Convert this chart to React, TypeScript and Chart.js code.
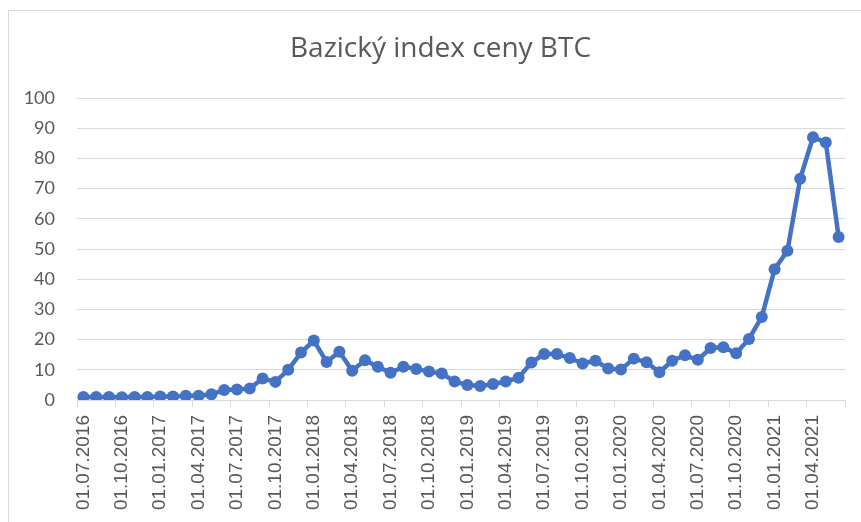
import React, { useEffect, useRef } from "react";
import { Chart, registerables } from "chart.js";

Chart.register(...registerables);

const TITLE = "Bazický index ceny BTC";

const categories = [
  "01.07.2016", "01.08.2016", "01.09.2016", "01.10.2016", "01.11.2016", "01.12.2016",
  "01.01.2017", "01.02.2017", "01.03.2017", "01.04.2017", "01.05.2017", "01.06.2017",
  "01.07.2017", "01.08.2017", "01.09.2017", "01.10.2017", "01.11.2017", "01.12.2017",
  "01.01.2018", "01.02.2018", "01.03.2018", "01.04.2018", "01.05.2018", "01.06.2018",
  "01.07.2018", "01.08.2018", "01.09.2018", "01.10.2018", "01.11.2018", "01.12.2018",
  "01.01.2019", "01.02.2019", "01.03.2019", "01.04.2019", "01.05.2019", "01.06.2019",
  "01.07.2019", "01.08.2019", "01.09.2019", "01.10.2019", "01.11.2019", "01.12.2019",
  "01.01.2020", "01.02.2020", "01.03.2020", "01.04.2020", "01.05.2020", "01.06.2020",
  "01.07.2020", "01.08.2020", "01.09.2020", "01.10.2020", "01.11.2020", "01.12.2020",
  "01.01.2021", "01.02.2021", "01.03.2021", "01.04.2021", "01.05.2021", "01.06.2021",
];

const indexValues = [
  1.0, 1.0, 1.0, 0.9, 1.0, 1.0, 1.2, 1.2, 1.4, 1.4,
  1.9, 3.3, 3.5, 3.8, 7.1, 6.0, 10.0, 15.7, 19.7, 12.6,
  16.0, 9.7, 13.2, 11.0, 9.0, 11.0, 10.3, 9.4, 8.8, 6.1,
  5.0, 4.6, 5.3, 6.1, 7.4, 12.4, 15.2, 15.2, 13.9, 12.1,
  13.0, 10.4, 10.1, 13.7, 12.5, 9.2, 13.0, 14.8, 13.3, 17.2,
  17.5, 15.5, 20.2, 27.5, 43.3, 49.4, 73.3, 87.0, 85.3, 54.0,
];

const yTicks = [0, 10, 20, 30, 40, 50, 60, 70, 80, 90, 100];
const LABEL_EVERY = 3;

const borderPlugin = {
  id: "outerBorder",
  beforeDraw(chart: any) {
    const ctx = chart.ctx;
    ctx.save();
    ctx.fillStyle = "#ffffff";
    ctx.fillRect(0, 0, chart.width, chart.height);
    ctx.strokeStyle = "#d9d9d9";
    ctx.lineWidth = 1;
    ctx.strokeRect(8.5, 10.5, 1000, 1000);
    ctx.restore();
  },
};

export default function App() {
  const ref = useRef<HTMLCanvasElement | null>(null);

  useEffect(() => {
    document.body.style.margin = "0";
    document.body.style.overflow = "hidden";
    const canvas = ref.current;
    if (!canvas) return;
    const chart = new Chart(canvas, {
      type: "line",
      data: {
        labels: categories,
        datasets: [
          {
            data: indexValues,
            borderColor: "#4472C4",
            backgroundColor: "#4472C4",
            borderWidth: 4.5,
            pointRadius: 6,
            pointBorderWidth: 0,
            pointBackgroundColor: "#4472C4",
            tension: 0,
          },
        ],
      },
      options: {
        animation: false,
        responsive: false,
        maintainAspectRatio: false,
        layout: { padding: { left: 20, right: 0, top: 0, bottom: 0 } },
        plugins: {
          legend: { display: false },
          tooltip: { enabled: false },
          title: {
            display: true,
            text: TITLE,
            color: "#595959",
            font: { family: "Open Sans", size: 28, weight: "normal" },
            padding: { top: 32, bottom: 32.4 },
          },
        },
        scales: {
          x: {
            type: "category",
            offset: true,
            afterFit(scale: any) {
              scale.height = 122;
              scale.paddingRight = 0;
              scale.paddingLeft = 0;
            },
            grid: {
              offset: true,
              drawOnChartArea: false,
              drawTicks: true,
              tickLength: 7,
              color: (ctx: any) =>
                ctx.index === undefined || ctx.index % LABEL_EVERY === 0 ? "#d9d9d9" : "rgba(0,0,0,0)",
              lineWidth: 1,
            },
            border: { display: true, color: "#d9d9d9", width: 1 },
            ticks: {
              autoSkip: false,
              maxRotation: 90,
              minRotation: 90,
              padding: 8,
              color: "#595959",
              font: { family: "Liberation Sans", size: 19 },
              callback: (_v: any, i: number) => (i % LABEL_EVERY === 0 ? categories[i] : ""),
            },
          },
          y: {
            min: yTicks[0],
            max: yTicks[yTicks.length - 1],
            afterFit(scale: any) {
              scale.width = 57;
            },
            afterBuildTicks(scale: any) {
              scale.ticks = yTicks.map((v) => ({ value: v }));
            },
            grid: {
              drawTicks: false,
              color: "#d9d9d9",
              lineWidth: 1,
            },
            border: { display: false },
            ticks: {
              padding: 22,
              color: "#595959",
              font: { family: "Lato", size: 18 },
            },
          },
          spacer: {
            type: "linear",
            position: "right",
            display: true,
            afterFit(scale: any) {
              scale.width = 16;
            },
            grid: { display: false, drawTicks: false },
            border: { display: false },
            ticks: { display: false },
          },
        },
      },
      plugins: [borderPlugin],
    });
    return () => chart.destroy();
  }, []);

  return (
    <canvas
      ref={ref}
      width={861}
      height={522}
      style={{ display: "block", width: "861px", height: "522px" }}
    />
  );
}
